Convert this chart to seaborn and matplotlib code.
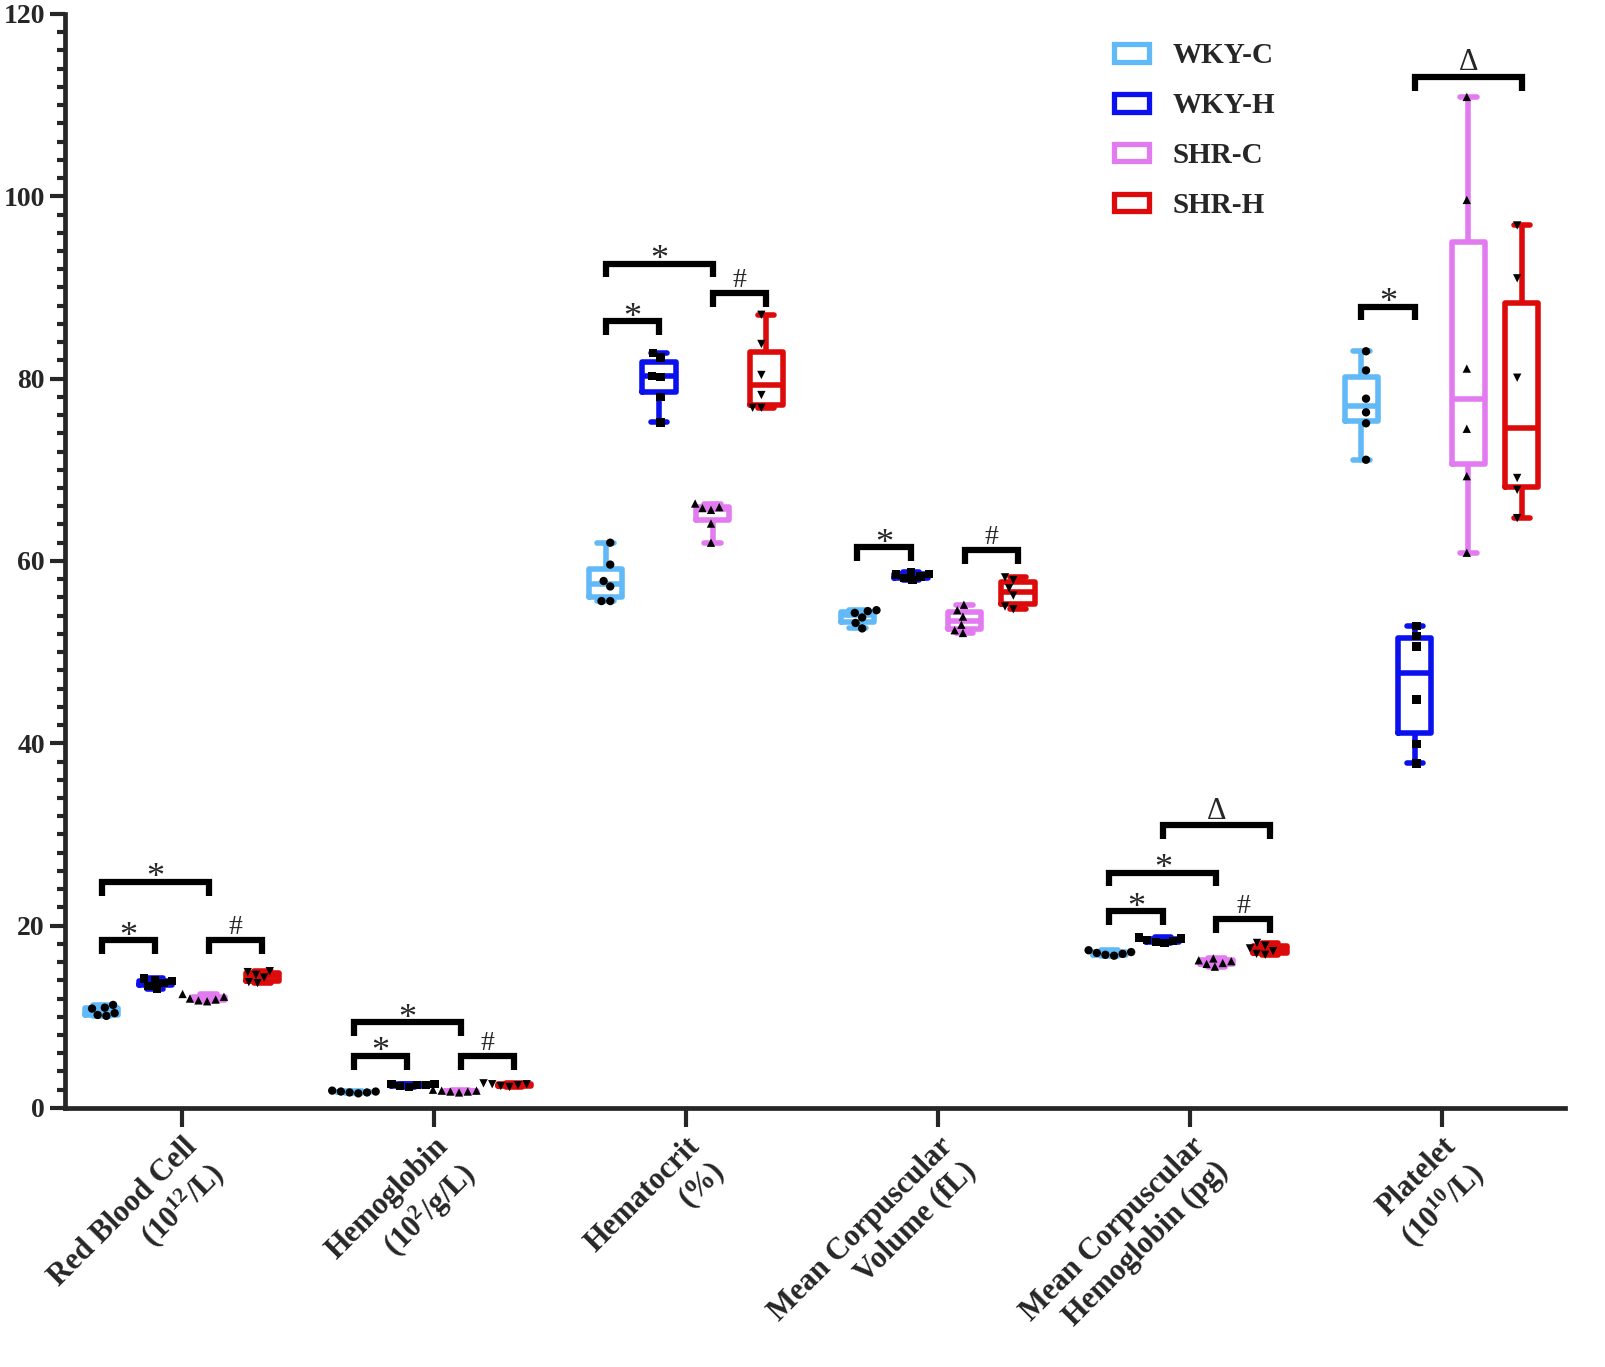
import warnings
import pandas as pd
import matplotlib
matplotlib.use("Agg")
import matplotlib.pyplot as plt
import seaborn as sns
from matplotlib.patches import Patch
from matplotlib.ticker import MultipleLocator

warnings.filterwarnings("ignore")

categories = ["RBC", "HGB", "HCT", "MCV", "MCH", "PLT"]
tick_labels = [
    "Red Blood Cell\n(10$^{12}$/L)",
    "Hemoglobin\n(10$^{2}$/g/L)",
    "Hematocrit\n(%)",
    "Mean Corpuscular\nVolume (fL)",
    "Mean Corpuscular\nHemoglobin (pg)",
    "Platelet\n(10$^{10}$/L)",
]
groups = ["WKY-C", "WKY-H", "SHR-C", "SHR-H"]
colors = ["#62B9F7", "#0A10EE", "#E27AF0", "#DC0A0A"]
markers = ["o", "s", "^", "v"]

# values per group: WKY-C, WKY-H, SHR-C, SHR-H
rbc = [[10.1, 10.2, 10.4, 10.9, 11.0, 11.3],
       [13.1, 13.4, 13.7, 13.9, 14.0, 14.2],
       [11.7, 11.8, 11.9, 12.0, 12.2, 12.5],
       [13.7, 13.8, 14.3, 14.6, 14.9, 15.0]]
hgb = [[1.6, 1.7, 1.7, 1.8, 1.8, 1.9],
       [2.3, 2.4, 2.5, 2.5, 2.6, 2.6],
       [1.7, 1.8, 1.8, 1.9, 1.9, 2.0],
       [2.3, 2.4, 2.5, 2.6, 2.6, 2.7]]
hct = [[55.6, 55.6, 57.2, 57.8, 59.6, 62.0],
       [75.2, 78.0, 80.2, 80.3, 82.3, 82.8],
       [62.0, 64.1, 65.6, 65.8, 65.9, 66.3],
       [76.8, 76.8, 78.2, 80.4, 83.8, 87.0]]
mcv = [[52.6, 53.2, 53.8, 54.3, 54.5, 54.6],
       [57.9, 58.1, 58.3, 58.5, 58.6, 58.8],
       [52.1, 52.4, 53.0, 53.9, 54.6, 55.2],
       [54.7, 55.0, 56.2, 57.0, 57.9, 58.2]]
mch = [[16.7, 16.8, 16.9, 17.0, 17.1, 17.3],
       [18.1, 18.2, 18.3, 18.4, 18.6, 18.7],
       [15.5, 15.8, 15.9, 16.1, 16.2, 16.4],
       [16.8, 16.9, 17.2, 17.5, 17.8, 18.1]]
plt_count = [[71.1, 75.1, 76.3, 77.8, 80.9, 83.0],
             [37.8, 39.9, 44.8, 50.6, 51.8, 52.9],
             [60.9, 69.3, 74.5, 81.1, 99.6, 110.9],
             [64.7, 67.8, 69.1, 80.1, 91.0, 96.8]]

# significance brackets: (category, group a, group b, bar height, symbol)
brackets = [
    (0, 0, 2, 24.8, "*"), (0, 0, 1, 18.4, "*"), (0, 2, 3, 18.4, "#"),
    (1, 0, 2, 9.4, "*"), (1, 0, 1, 5.7, "*"), (1, 2, 3, 5.7, "#"),
    (2, 0, 2, 92.6, "*"), (2, 0, 1, 86.3, "*"), (2, 2, 3, 89.4, "#"),
    (3, 0, 1, 61.5, "*"), (3, 2, 3, 61.2, "#"),
    (4, 1, 3, 31.0, "Δ"), (4, 0, 2, 25.8, "*"), (4, 0, 1, 21.6, "*"), (4, 2, 3, 20.7, "#"),
    (5, 0, 1, 87.9, "*"), (5, 1, 3, 113.1, "Δ"),
]

rows = []
for cat, vals in zip(categories, [rbc, hgb, hct, mcv, mch, plt_count]):
    for g, gvals in zip(groups, vals):
        for v in gvals:
            rows.append({"param": cat, "group": g, "value": v})
df = pd.DataFrame(rows)

sns.set_style("ticks")
plt.rcParams["font.family"] = ["Liberation Serif", "DejaVu Serif"]
plt.rcParams["font.weight"] = "bold"
plt.rcParams["mathtext.default"] = "regular"

fig = plt.figure(figsize=(16.06, 13.67), dpi=100)
ax = fig.add_axes([0.0405, 0.1895, 0.934, 0.8003])

box_width = 0.85
sns.boxplot(data=df, x="param", y="value", hue="group", order=categories,
            hue_order=groups, palette=colors, fill=False, width=box_width,
            gap=0.38, whis=(0, 100), linewidth=4, showfliers=False,
            legend=False, ax=ax)

for g, m in zip(groups, markers):
    sns.swarmplot(data=df[df["group"] == g], x="param", y="value", hue="group",
                  order=categories, hue_order=groups, dodge=True, marker=m,
                  palette={k: "black" for k in groups}, size=6, linewidth=0,
                  legend=False, ax=ax)

slot = box_width / len(groups)
sym_style = {"*": (26, -0.6), "#": (20, 0.7), "Δ": (22, 0.7)}
for ci, a, b, y, sym in brackets:
    xa = ci + (a - 1.5) * slot
    xb = ci + (b - 1.5) * slot
    leg = 1.5
    ax.plot([xa, xa, xb, xb], [y - leg, y, y, y - leg], color="black",
            lw=4.5, solid_joinstyle="miter", solid_capstyle="butt")
    fs, dy = sym_style[sym]
    ax.text((xa + xb) / 2, y + dy, sym, ha="center", va="baseline",
            fontsize=fs, fontweight="normal",
            family=["Liberation Serif", "DejaVu Sans"])

ax.set_xlim(-0.464, 5.49)
ax.set_ylim(0, 120)
ax.yaxis.set_major_locator(MultipleLocator(20))
ax.yaxis.set_minor_locator(MultipleLocator(2))
ax.tick_params(axis="y", which="major", length=11, width=3, labelsize=20)
ax.tick_params(axis="y", which="minor", length=6, width=3)
ax.tick_params(axis="x", length=14, width=3)
ax.set_xticks(range(len(categories)))
ax.set_xticklabels(tick_labels, rotation=45, ha="right", va="top",
                   rotation_mode="anchor", fontsize=22, fontweight="bold")
for lab in ax.get_yticklabels():
    lab.set_fontweight("bold")
ax.set_xlabel("")
ax.set_ylabel("")
for side in ["top", "right"]:
    ax.spines[side].set_visible(False)
for side in ["left", "bottom"]:
    ax.spines[side].set_linewidth(3.4)

handles = [Patch(facecolor="white", edgecolor=c, linewidth=3.8, label=g)
           for g, c in zip(groups, colors)]
ax.legend(handles=handles, loc="upper left", bbox_to_anchor=(0.682, 0.998),
          frameon=False, prop={"size": 21, "weight": "bold"},
          handlelength=1.2, handleheight=0.55, labelspacing=0.78,
          handletextpad=0.8)

fig.savefig("out.png", dpi=100)
